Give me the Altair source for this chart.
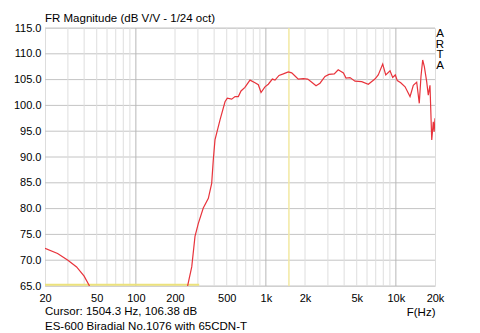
import altair as alt
import pandas as pd

# Frequency response (Hz, dB)
freq = [20, 25, 30, 35, 40, 44, 48, 240, 250, 269, 285, 302, 330, 361, 383, 394, 406,
        444, 485, 505, 546, 579, 614, 644, 690, 755, 825, 875, 918, 984, 1044, 1122,
        1176, 1262, 1362, 1488, 1580, 1676, 1776, 1940, 2098, 2254, 2432, 2608, 2850,
        3060, 3360, 3600, 3950, 4134, 4436, 4850, 5460, 6140, 6900, 7320, 7920, 8360,
        9020, 9450, 9900, 10260, 10900, 11770, 12850, 13200, 13620, 14460, 15140,
        15600, 16080, 16560, 17260, 17760, 18300, 18880, 19400, 19700, 20000]
level = [72.3, 71.3, 70.0, 68.7, 66.9, 65.0, 63.5, 63.5, 65.0, 68.7, 74.6, 77.1, 80.1,
         82.0, 84.9, 89.4, 93.3, 97.2, 100.7, 101.4, 101.2, 101.7, 101.7, 102.8, 103.5,
         104.9, 104.4, 104.0, 102.5, 103.6, 104.1, 105.1, 104.9, 105.8, 106.1, 106.5,
         106.3, 105.7, 105.1, 105.2, 105.1, 104.5, 103.8, 104.3, 105.6, 106.0, 106.1,
         106.9, 106.3, 105.3, 105.4, 104.7, 104.6, 104.1, 105.1, 105.9, 108.0, 105.9,
         106.7, 105.4, 105.9, 104.8, 104.4, 103.6, 101.7, 102.7, 103.9, 104.5, 100.4,
         105.6, 108.8, 107.5, 104.6, 102.0, 103.9, 93.3, 96.8, 94.9, 97.5]

grid_freqs = [30, 40, 50, 60, 70, 80, 90, 100, 200, 300, 400, 500, 600, 700, 800, 900,
              1000, 2000, 3000, 4000, 5000, 6000, 7000, 8000, 9000, 10000]
major_freqs = [100, 1000, 10000]
tick_freqs = [20, 50, 100, 200, 500, 1000, 2000, 5000, 10000, 20000]
y_ticks = [65, 70, 75, 80, 85, 90, 95, 100, 105, 110, 115]

cursor_freq = [1504.3]
base_freq = [20, 307]
base_level = [65.25, 65.25]

title_text = ["FR Magnitude (dB V/V - 1/24 oct)"]
cursor_text = ["Cursor: 1504.3 Hz, 106.38 dB"]
note_text = ["ES-600 Biradial No.1076 with 65CDN-T"]
brand_text = ["A\nR\nT\nA"]

FONT = "Liberation Sans"
W, H = 390, 258

xscale = alt.Scale(type="log", domain=[20, 20000], nice=False)
yscale = alt.Scale(domain=[65, 115], nice=False, zero=False)

xaxis = alt.Axis(
    values=tick_freqs, grid=False, ticks=False, domain=False,
    labelExpr="datum.value >= 1000 ? format(datum.value/1000, 'd') + 'k' : format(datum.value, 'd')",
    labelFont=FONT, labelFontSize=11, labelColor="#000000", labelPadding=6,
    labelOverlap=False, labelFlush=False,
    title="F(Hz)", titleFont=FONT, titleFontSize=11.5, titleFontWeight="normal",
    titleColor="#000000", titleAnchor="end", titleAlign="right", titleX=W,
    titleY=26, titleBaseline="middle",
)
yaxis = alt.Axis(
    values=y_ticks, labelExpr="format(datum.value, '.1f')", grid=False, ticks=False,
    domain=False, labelFont=FONT, labelFontSize=11, labelColor="#000000",
    labelPadding=4, title=None, labelFlush=False, labelOverlap=False,
)

def X():
    return alt.X("f:Q", scale=xscale, axis=xaxis)

def Y():
    return alt.Y("db:Q", scale=yscale, axis=yaxis)

df = pd.DataFrame({"f": freq, "db": level})
gdf = pd.DataFrame({"f": grid_freqs, "major": [g in major_freqs for g in grid_freqs]})
ydf = pd.DataFrame({"db": y_ticks})

hgrid = alt.Chart(ydf).mark_rule(strokeWidth=1, color="#c4c4c4").encode(y=Y())

grid = alt.Chart(gdf).mark_rule(strokeWidth=1).encode(
    x=X(),
    color=alt.Color("major:N", scale=alt.Scale(domain=[False, True], range=["#dedede", "#b8b8b8"]), legend=None),
)

cursor = alt.Chart(pd.DataFrame({"f": cursor_freq})).mark_rule(color="#f2e9a2", strokeWidth=1.5).encode(x=X())

base = alt.Chart(pd.DataFrame({"f": base_freq, "db": base_level})).mark_line(
    color="#ece27c", strokeWidth=2
).encode(x=X(), y=Y())

line = alt.Chart(df).mark_line(color="#e8333b", strokeWidth=1.2, clip=True).encode(x=X(), y=Y())

def txt(values, y, **kw):
    return alt.Chart(pd.DataFrame({"t": values})).mark_text(
        font=FONT, fontSize=11.5, color="#000000", **kw
    ).encode(text="t:N", x=alt.value(0), y=alt.value(y))

t0 = txt(title_text, -9, align="left", baseline="middle")
t1 = txt(cursor_text, H + 26, align="left", baseline="middle")
t2 = txt(note_text, H + 41, align="left", baseline="middle")
brand = alt.Chart(pd.DataFrame({"t": brand_text})).mark_text(
    font=FONT, fontSize=11.5, color="#000000", align="center", baseline="top",
    lineBreak="\n", lineHeight=10.7
).encode(text="t:N", x=alt.value(W + 5), y=alt.value(0))

chart = alt.layer(hgrid, grid, cursor, base, line, t0, t1, t2, brand).properties(
    width=W, height=H,
    autosize=alt.AutoSizeParams(type="none"),
    padding={"left": 37, "top": 20, "right": 37, "bottom": 47},
).configure_view(stroke="#8c8c8c", strokeWidth=1).configure(background="white")

chart.save("out.html", embed_options={"renderer": "svg", "actions": False})
